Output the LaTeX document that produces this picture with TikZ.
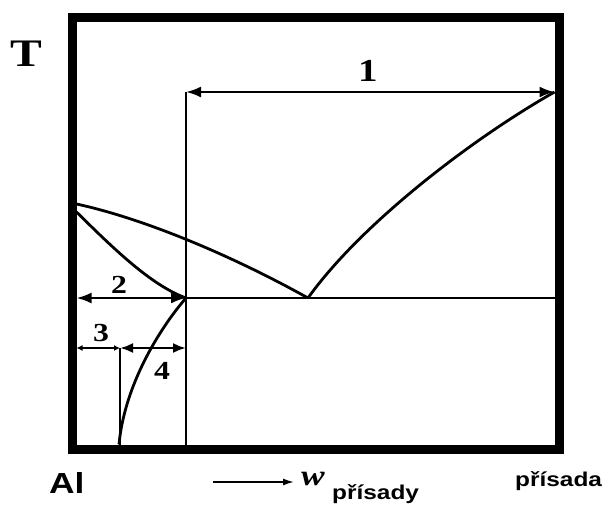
\documentclass[tikz,border=0pt]{standalone}
\usepackage{fontspec}
\setmainfont{Liberation Serif}
\setsansfont{Liberation Sans}
\usetikzlibrary{arrows.meta}
\tikzset{
  frame/.style={line width=9pt},
  phase/.style={line width=2.8pt},
  dimline/.style={line width=2.3pt},
  bighead/.style={{Latex[length=15pt,width=11pt]}-{Latex[length=15pt,width=11pt]}},
  midhead/.style={{Latex[length=13pt,width=10pt]}-{Latex[length=13pt,width=10pt]}},
  smallhead/.style={{Latex[length=6pt,width=6pt]}-{Latex[length=6pt,width=6pt]}},
  lbl/.style={inner sep=0pt, font=\bfseries},
}
\newcommand{\stretchx}[1]{\scalebox{1.22}[1]{#1}}
\begin{document}
\begin{tikzpicture}[x=1pt,y=-1pt]
\useasboundingbox (0,0) rectangle (602,504);
% frame
\draw[frame] (72,17) rectangle (559,449);
% key points
\coordinate (LL) at (76.5,204);
\coordinate (LS) at (76.5,212);
\coordinate (E) at (308,298);
\coordinate (M) at (186,298);
\coordinate (RT) at (554.5,92);
\coordinate (VT) at (186,92);
\coordinate (VB) at (186,444.5);
\coordinate (E2L) at (76.5,298);
\coordinate (E2R) at (554.5,298);
\coordinate (SB) at (119,444.5);
\coordinate (A3L) at (76.5,348);
\coordinate (A3R) at (120,348);
\coordinate (A4R) at (186,348);
\coordinate (V2B) at (120,444.5);
% phase lines
\draw[phase] (E) .. controls (360,225) and (470,140) .. (RT);
\draw[phase] (LL) .. controls (150,220) and (240,260) .. (E);
\draw[phase] (LS) .. controls (110,245) and (150,285) .. (M);
\draw[phase] (M) .. controls (165,322) and (125,380) .. (SB);
\draw[phase] (M) -- (E2R);
\draw[phase] (VT) -- (VB);
\draw[phase] (A3R) -- (V2B);
% dimension arrows
\draw[dimline,bighead] (VT) -- (RT);
\draw[dimline,bighead] (E2L) -- (M);
\draw[dimline,smallhead] (A3L) -- (A3R);
\draw[dimline,midhead] (A3R) -- (A4R);
% labels
\node[lbl] (n1) at (368,71) {\fontsize{32}{32}\selectfont\stretchx{1}};
\node[lbl] (n2) at (119,285) {\fontsize{26}{26}\selectfont\stretchx{2}};
\node[lbl] (n3) at (101,333) {\fontsize{26}{26}\selectfont\stretchx{3}};
\node[lbl] (n4) at (162,371) {\fontsize{26}{26}\selectfont\stretchx{4}};
\node[lbl] (T) at (26,54) {\fontsize{39}{39}\selectfont\stretchx{T}};
\node[lbl, anchor=base west] (Al) at (49,493) {\fontsize{29}{29}\selectfont\sffamily\bfseries\stretchx{Al}};
\coordinate (wa) at (213,482);
\coordinate (wb) at (294,482);
\draw[line width=1.6pt, -{Latex[length=11pt,width=7pt]}] (wa) -- (wb);
\node[lbl, anchor=base west] (w) at (301,485) {\fontsize{29}{29}\selectfont\bfseries\itshape\stretchx{w}};
\node[lbl, anchor=base west] (ws) at (332,499) {\fontsize{20}{20}\selectfont\sffamily\bfseries\stretchx{přísady}};
\node[lbl, anchor=base west] (pr) at (515,486) {\fontsize{20}{20}\selectfont\sffamily\bfseries\stretchx{přísada}};
\end{tikzpicture}
\end{document}
